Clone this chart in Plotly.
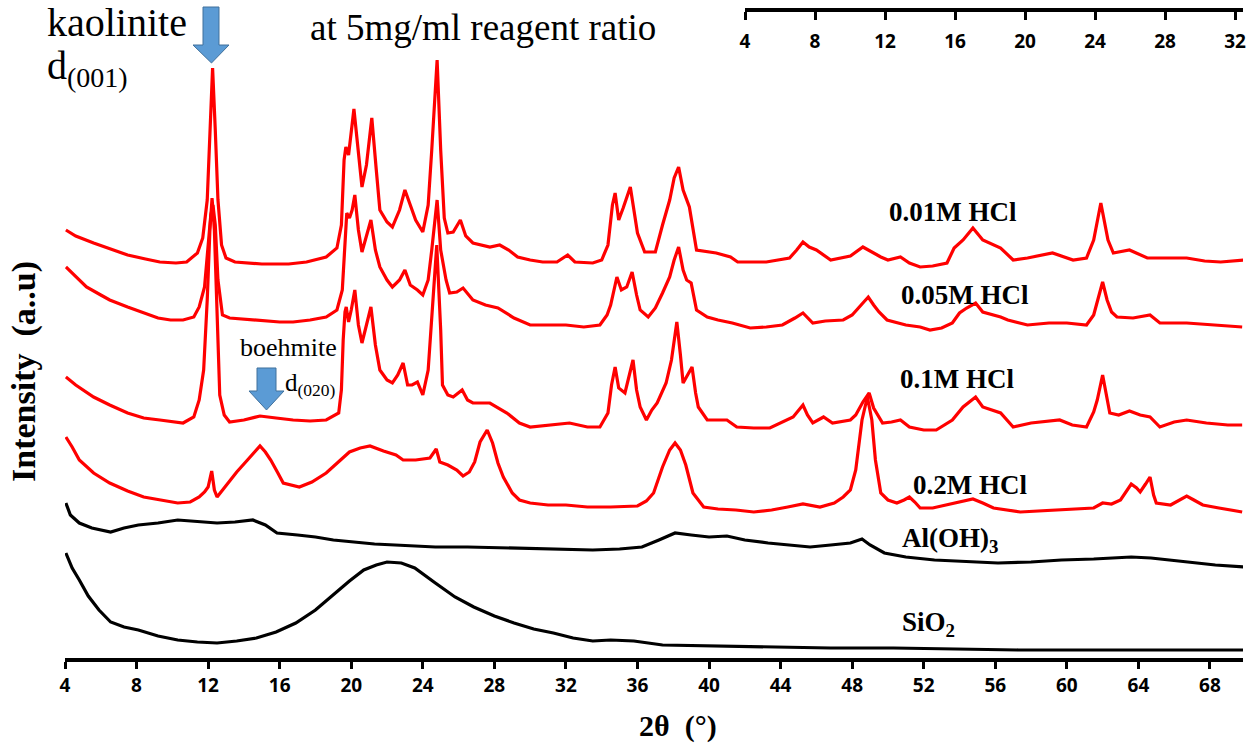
import plotly.graph_objects as go

# ---------------- data (2theta in degrees, intensity in a.u.) ----------------
hcl001_x = [4.05, 4.6, 5.6, 6.5, 7.5, 8.5, 9.3, 10.2, 10.8, 11.4, 11.7, 11.95, 12.1, 12.25, 12.4, 12.55, 12.75, 13.0, 13.5, 15.0, 16.5, 17.5, 18.6, 19.2, 19.45, 19.6, 19.7, 19.85, 20.15, 20.4, 20.6, 20.85, 21.15, 21.4, 21.6, 22.0, 22.3, 22.7, 23.0, 23.3, 23.6, 24.0, 24.3, 24.5, 24.8, 25.0, 25.2, 25.4, 25.7, 26.1, 26.4, 26.8, 27.75, 28.3, 28.8, 29.3, 30.0, 30.7, 31.5, 32.1, 32.5, 33.5, 34.0, 34.35, 34.6, 34.75, 34.95, 35.2, 35.6, 35.8, 36.0, 36.4, 37.0, 37.4, 37.8, 38.05, 38.3, 38.55, 38.9, 39.3, 40.0, 40.4, 41.2, 41.6, 43.2, 44.5, 44.9, 45.25, 45.6, 46.0, 46.8, 47.3, 47.9, 48.6, 49.2, 49.6, 50.0, 50.7, 51.2, 51.8, 52.5, 53.3, 53.7, 54.2, 54.75, 55.3, 56.3, 56.8, 57.0, 57.8, 59.2, 60.35, 61.1, 61.5, 61.9, 62.3, 62.6, 63.5, 64.5, 65.5, 66.7, 67.7, 68.6, 70.0]
hcl001_y = [430, 424, 417, 411, 405, 401, 398, 397, 398, 407, 422, 460, 530, 592, 530, 460, 415, 402, 398, 396, 396, 398, 403, 412, 435, 500, 513, 505, 551, 510, 473, 495, 542, 490, 450, 438, 433, 450, 470, 455, 440, 428, 455, 510, 600, 510, 442, 427, 428, 440, 424, 417, 413, 415, 410, 403, 400, 398, 398, 405, 398, 397, 400, 415, 455, 467, 440, 452, 473, 450, 427, 408, 408, 435, 460, 482, 493, 470, 453, 410, 408, 407, 403, 398, 398, 402, 410, 418, 413, 410, 400, 402, 404, 413, 407, 403, 400, 403, 397, 393, 394, 397, 412, 420, 432, 420, 412, 404, 400, 402, 407, 400, 402, 420, 457, 420, 407, 410, 402, 402, 402, 399, 398, 400]

hcl005_x = [4.05, 4.5, 5.2, 6.0, 6.5, 7.5, 8.4, 9.2, 9.9, 10.6, 11.2, 11.5, 11.8, 12.0, 12.15, 12.27, 12.4, 12.55, 12.8, 13.2, 14.0, 14.9, 16.0, 16.75, 17.7, 18.6, 19.2, 19.5, 19.65, 19.75, 19.9, 20.05, 20.2, 20.4, 20.6, 20.85, 21.1, 21.35, 21.6, 22.0, 22.3, 22.7, 23.0, 23.3, 23.7, 24.0, 24.3, 24.5, 24.8, 25.0, 25.3, 25.5, 25.9, 26.25, 26.8, 27.5, 28.2, 29.1, 30.0, 31.1, 32.0, 33.0, 33.9, 34.3, 34.5, 34.85, 35.1, 35.4, 35.7, 35.95, 36.15, 36.6, 37.0, 37.4, 37.8, 38.05, 38.3, 38.55, 38.75, 39.0, 39.3, 39.9, 40.5, 41.3, 42.3, 43.2, 44.1, 44.8, 45.25, 45.8, 46.5, 47.5, 48.0, 48.5, 48.9, 49.2, 49.5, 49.95, 51.0, 51.8, 52.35, 53.0, 53.6, 54.0, 54.4, 54.9, 55.3, 56.3, 56.7, 57.8, 59.0, 60.0, 61.1, 61.5, 61.75, 62.0, 62.25, 62.5, 62.8, 63.7, 64.65, 65.2, 66.7, 68.0, 69.8]
hcl005_y = [393, 385, 373, 365, 360, 353, 347, 342, 340, 340, 343, 353, 373, 410, 445, 455, 435, 380, 345, 342, 341, 340, 338, 338, 340, 343, 350, 370, 410, 447, 442, 450, 465, 430, 408, 425, 440, 410, 393, 380, 373, 380, 390, 375, 370, 365, 380, 410, 460, 410, 380, 367, 368, 372, 360, 355, 352, 342, 335, 335, 335, 333, 335, 345, 355, 383, 370, 373, 388, 365, 350, 343, 352, 367, 383, 400, 413, 390, 380, 377, 350, 343, 340, 337, 332, 333, 335, 342, 347, 337, 339, 340, 345, 355, 363, 355, 348, 340, 335, 333, 330, 332, 337, 347, 352, 357, 348, 343, 340, 335, 337, 337, 335, 345, 362, 378, 360, 348, 343, 342, 345, 337, 337, 335, 333]

hcl01_x = [4.05, 4.6, 5.6, 6.5, 7.5, 8.4, 9.3, 10.6, 11.2, 11.5, 11.75, 11.95, 12.1, 12.22, 12.35, 12.5, 12.65, 12.9, 13.2, 14.0, 14.9, 15.8, 16.75, 17.7, 18.6, 19.3, 19.45, 19.55, 19.65, 19.72, 19.85, 20.0, 20.2, 20.4, 20.6, 20.85, 21.1, 21.35, 21.6, 22.0, 22.3, 22.6, 22.9, 23.15, 23.4, 23.7, 24.0, 24.3, 24.5, 24.78, 25.0, 25.1, 25.4, 25.7, 26.2, 26.5, 26.8, 27.75, 28.7, 29.4, 30.0, 31.0, 32.2, 33.2, 33.9, 34.35, 34.55, 34.75, 34.95, 35.3, 35.55, 35.75, 35.95, 36.15, 36.5, 36.8, 37.1, 37.6, 37.9, 38.2, 38.4, 38.55, 38.8, 39.05, 39.25, 39.4, 39.9, 41.0, 41.55, 42.5, 43.4, 44.7, 45.25, 45.5, 45.8, 46.4, 46.9, 47.9, 48.2, 48.6, 48.95, 49.2, 49.7, 50.2, 50.7, 51.2, 52.0, 52.7, 53.6, 54.2, 54.9, 55.3, 56.3, 57.0, 58.0, 59.6, 60.3, 61.1, 61.5, 61.7, 62.0, 62.25, 62.4, 62.9, 63.5, 64.1, 64.65, 65.2, 66.0, 66.7, 67.8, 69.0, 69.8]
hcl01_y = [283, 275, 263, 255, 247, 242, 240, 237, 243, 260, 290, 360, 430, 462, 430, 340, 265, 245, 238, 240, 244, 242, 240, 239, 240, 247, 270, 320, 348, 353, 338, 350, 370, 335, 317, 335, 353, 315, 290, 280, 277, 285, 297, 275, 275, 278, 265, 290, 340, 415, 330, 275, 265, 263, 270, 260, 257, 257, 247, 237, 233, 235, 237, 233, 233, 247, 275, 293, 272, 267, 285, 300, 270, 253, 240, 250, 257, 277, 300, 338, 305, 277, 285, 293, 267, 253, 240, 240, 233, 232, 232, 243, 255, 245, 237, 243, 237, 240, 245, 258, 267, 252, 237, 238, 240, 233, 230, 230, 240, 253, 263, 253, 247, 233, 237, 240, 235, 233, 248, 260, 285, 260, 247, 245, 249, 245, 243, 233, 238, 240, 237, 235, 235]

hcl02_x = [4.05, 4.4, 4.8, 5.6, 6.5, 7.5, 8.4, 9.3, 10.3, 11.0, 11.5, 11.8, 12.0, 12.2, 12.35, 12.5, 13.1, 13.6, 14.2, 14.6, 14.9, 15.2, 15.5, 15.9, 16.2, 17.1, 17.8, 18.6, 19.3, 19.9, 20.5, 21.05, 21.8, 22.5, 22.9, 23.6, 24.4, 24.75, 24.95, 25.4, 25.9, 26.25, 26.6, 26.9, 27.2, 27.6, 27.9, 28.2, 28.5, 29.0, 29.4, 30.0, 31.0, 32.0, 33.2, 34.5, 36.0, 36.5, 36.9, 37.4, 37.8, 38.1, 38.4, 38.7, 39.1, 39.7, 40.5, 41.5, 42.5, 43.5, 44.4, 45.25, 46.2, 47.0, 47.5, 47.9, 48.2, 48.55, 48.85, 49.1, 49.3, 49.6, 50.0, 50.5, 50.9, 51.2, 51.5, 51.8, 52.5, 53.3, 54.0, 54.75, 55.3, 55.9, 57.4, 58.5, 59.2, 60.5, 61.5, 62.0, 62.5, 63.0, 63.35, 63.6, 63.9, 64.1, 64.4, 64.65, 64.85, 65.0, 65.8, 66.3, 66.7, 67.1, 67.6, 68.5, 69.8]
hcl02_y = [223, 213, 200, 187, 177, 169, 163, 160, 157, 158, 163, 168, 173, 189, 170, 163, 177, 188, 200, 208, 214, 208, 200, 187, 177, 173, 178, 187, 198, 208, 212, 214, 209, 205, 200, 200, 202, 211, 198, 195, 190, 184, 188, 198, 218, 230, 217, 197, 183, 167, 160, 157, 155, 155, 153, 153, 154, 159, 167, 193, 210, 217, 210, 195, 167, 153, 151, 150, 148, 150, 153, 156, 153, 157, 163, 170, 190, 240, 263, 240, 200, 167, 160, 157, 160, 163, 158, 152, 152, 155, 158, 161, 157, 152, 148, 149, 150, 151, 152, 157, 156, 160, 170, 176, 172, 168, 176, 183, 165, 157, 155, 160, 164, 160, 155, 152, 148]

aloh3_x = [4.05, 4.3, 4.8, 5.5, 6.55, 7.3, 8.1, 9.2, 10.3, 11.3, 12.5, 13.5, 14.5, 15.2, 15.85, 17.0, 18.0, 19.0, 20.25, 21.3, 22.45, 23.5, 24.7, 26.5, 29.1, 31.0, 33.5, 35.0, 36.25, 37.2, 38.1, 39.0, 40.0, 41.0, 42.0, 43.3, 44.5, 45.65, 46.8, 47.9, 48.55, 49.0, 49.8, 51.0, 52.6, 54.5, 56.15, 58.0, 59.7, 61.5, 63.6, 64.7, 66.7, 68.3, 70.0]
aloh3_y = [157, 145, 137, 132, 128, 132, 135, 137, 140, 139, 137, 138, 140, 135, 127, 125, 123, 120, 118, 116, 115, 114, 113, 113, 112, 111, 110, 111, 113, 120, 127, 125, 123, 124, 120, 117, 115, 113, 115, 117, 121, 115, 107, 103, 100, 98, 97, 98, 100, 101, 103, 102, 98, 95, 93]

sio2_x = [4.05, 4.4, 4.8, 5.3, 5.9, 6.55, 7.3, 8.1, 9.2, 10.3, 11.4, 12.5, 13.6, 14.7, 15.8, 16.9, 18.0, 19.1, 19.9, 20.7, 21.4, 22.0, 22.8, 23.55, 24.2, 24.7, 25.8, 26.85, 28.0, 29.1, 30.2, 31.3, 32.4, 33.5, 34.5, 35.8, 37.4, 40.0, 43.3, 46.8, 50.3, 53.8, 57.3, 63.0, 70.0]
sio2_y = [107, 92, 80, 64, 50, 38, 33, 30, 24, 20, 18, 17, 19, 22, 28, 37, 50, 67, 79, 90, 95, 98, 97, 92, 84, 77, 63, 53, 44, 37, 31, 27, 22, 19, 20, 19, 15, 14, 13, 12, 12, 11, 10, 10, 10]

bottom_ticks = [4, 8, 12, 16, 20, 24, 28, 32, 36, 40, 44, 48, 52, 56, 60, 64, 68]
top_ticks = [4, 8, 12, 16, 20, 24, 28, 32]

series = [
    (hcl001_x, hcl001_y, "#ff0000"),
    (hcl005_x, hcl005_y, "#ff0000"),
    (hcl01_x, hcl01_y, "#ff0000"),
    (hcl02_x, hcl02_y, "#ff0000"),
    (aloh3_x, aloh3_y, "#000000"),
    (sio2_x, sio2_y, "#000000"),
]

# ---------------- layout helpers (pixel -> paper) ----------------
W, H = 1250, 743
ML, MR, MT, MB = 65, 7, 0, 85
PW, PH = W - ML - MR, H - MT - MB


def px(x):
    return (x - ML) / PW


def py(y):
    return (H - MB - y) / PH


SERIF = "Liberation Serif, Times New Roman, serif"
TICKFONT = dict(family="Open Sans, Lato, sans-serif", size=19, color="black", weight="bold")

fig = go.Figure()
for xs, ys, col in series:
    fig.add_trace(go.Scatter(x=xs, y=ys, mode="lines", line=dict(color=col, width=3.2),
                             showlegend=False, hoverinfo="skip"))

# dummy trace so the secondary (top) axis is drawn
fig.add_trace(go.Scatter(x=[None], y=[None], xaxis="x2", yaxis="y", showlegend=False,
                         hoverinfo="skip", mode="lines"))

fig.update_layout(
    width=W, height=H,
    margin=dict(l=ML, r=MR, t=MT, b=MB),
    paper_bgcolor="white", plot_bgcolor="rgba(0,0,0,0)",
    xaxis=dict(range=[4, 4 + PW / 17.89], tickvals=bottom_ticks, ticktext=[str(t) for t in bottom_ticks],
               showline=True, linecolor="black", linewidth=3.5, ticks="outside", ticklen=7,
               tickwidth=3, tickcolor="black", tickfont=TICKFONT, showgrid=False, zeroline=False),
    xaxis2=dict(domain=[px(745), 1.0], range=[4, 4 + (1243 - 745) / 17.5], anchor="free",
                position=py(10), side="bottom", tickvals=top_ticks, ticktext=[str(t) for t in top_ticks],
                showline=True, linecolor="black", linewidth=3.5, ticks="outside", ticklen=8,
                tickwidth=3, tickcolor="black", tickfont=TICKFONT, showgrid=False, zeroline=False,
                ticklabelstandoff=5),
    yaxis=dict(range=[660 - PH, 660], visible=False),
)

ann = []


def text(x, y, s, size, bold=False, xanchor="left", angle=0):
    ann.append(dict(x=px(x), y=py(y), xref="paper", yref="paper", text=s, showarrow=False,
                    xanchor=xanchor, yanchor="middle", textangle=angle,
                    font=dict(family=SERIF, size=size, color="black",
                              weight="bold" if bold else "normal")))


text(45, 22, "kaolinite", 40)
text(45, 68, "d<sub>(001)</sub>", 40)
text(308, 28, "at 5mg/ml reagent ratio", 37)
text(887, 212, "0.01M HCl", 27, True)
text(899, 295, "0.05M HCl", 27, True)
text(898, 379, "0.1M HCl", 27, True)
text(911, 485, "0.2M HCl", 27, True)
text(900, 540, "Al(OH)<sub>3</sub>", 27, True)
text(900, 624, "SiO<sub>2</sub>", 27, True)
text(238, 347, "boehmite", 26)
text(283, 384, "d<sub>(020)</sub>", 25)
text(24, 372, "Intensity  (a..u)", 34, True, xanchor="center", angle=-90)
text(678, 726, "2\u03b8\u00a0\u00a0(\u00b0)", 30, True, xanchor="center")
fig.update_layout(annotations=ann)


def arrow(sx0, sx1, sy0, sy1, hx0, hx1, tipx, tipy):
    pts = [(sx0, sy0), (sx1, sy0), (sx1, sy1), (hx1, sy1), (tipx, tipy), (hx0, sy1), (sx0, sy1)]
    path = "M " + " L ".join(f"{px(a):.5f},{py(b):.5f}" for a, b in pts) + " Z"
    return dict(type="path", path=path, xref="paper", yref="paper",
                fillcolor="#5b9bd5", line=dict(color="#41719c", width=1))


fig.update_layout(shapes=[
    arrow(203, 219, 7, 45, 193, 229, 211.5, 63),
    arrow(257, 276, 368, 391, 249, 284, 266.5, 410),
])

fig.write_html("out.html", config={"displayModeBar": False},
               post_script="document.body.style.margin='0';document.body.style.overflow='hidden';")
